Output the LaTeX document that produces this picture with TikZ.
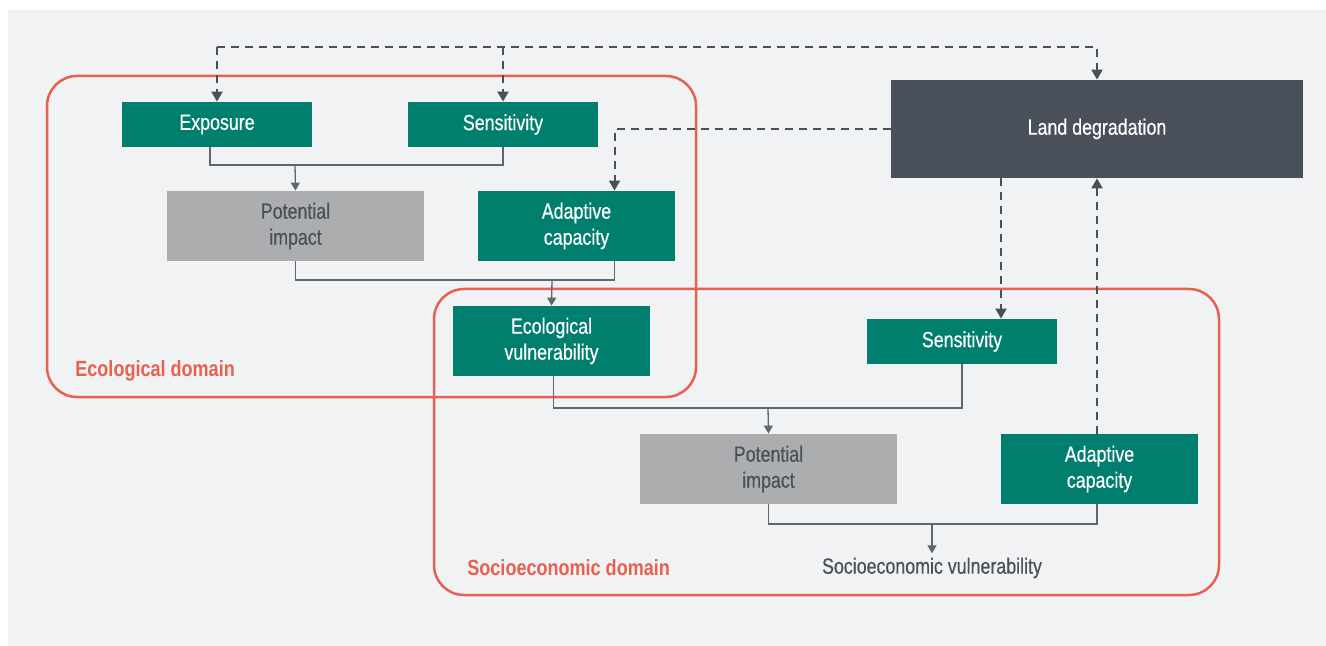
\documentclass[tikz,border=0pt]{standalone}
\usepackage{fontspec}
\setmainfont{Liberation Sans}[FakeStretch=0.82]
\newfontfamily\medfont{Liberation Sans}[FakeStretch=0.81,FakeBold=0.45]
\usepackage{xcolor}
\usepackage{tikz}
\usetikzlibrary{arrows.meta,positioning}
\definecolor{vubg}{HTML}{F1F2F4}
\definecolor{vuteal}{HTML}{007E6E}
\definecolor{vugrey}{HTML}{ABADAF}
\definecolor{vudark}{HTML}{4A505A}
\definecolor{vured}{HTML}{E8604F}
\definecolor{vuline}{HTML}{5F6670}

\begin{document}
\begin{tikzpicture}[
  x=0.5pt, y=-0.5pt,
  every node/.style={font=\medfont\fontsize{11}{13}\selectfont, inner sep=2pt},
  tealbox/.style={rectangle, fill=vuteal, text=white, align=center,
                  minimum width=98.5pt, minimum height=35pt},
  greybox/.style={rectangle, fill=vugrey, text=vudark, align=center,
                  minimum width=128.5pt, minimum height=35pt},
  darkbox/.style={rectangle, fill=vudark, text=white, align=center,
                  minimum width=206pt, minimum height=49pt},
  domframe/.style={draw=vured, line width=1.25pt, rounded corners=15pt},
  domlbl/.style={anchor=west, text=vured, font=\fontsize{11}{13}\selectfont\bfseries},
  flow/.style={draw=vuline, line width=0.65pt},
  arr/.style={flow, -{Triangle[width=4.5pt,length=4pt]}},
  fback/.style={draw=vudark, line width=1pt, dash pattern=on 4pt off 3pt,
                -{Triangle[width=5.5pt,length=5pt]}}
]
\useasboundingbox (0,0) rectangle (1326,646);
\fill[vubg] (8,10) rectangle (1326,646);

% domains
\draw[domframe] (47,76) rectangle (696,397);
\draw[domframe] (434,289) rectangle (1219,595);
\node[domlbl] (ecodom) at (71,371) {Ecological domain};
\node[domlbl] (socdom) at (463,568) {Socioeconomic domain};

% ecological part
\node[tealbox, minimum width=95pt, minimum height=22.5pt] (expo) at (217,124.5) {Exposure};
\node[tealbox, minimum width=95pt, minimum height=22.5pt] (sens1) at (503,124.5) {Sensitivity};
\node[greybox] (pot1) at (295.5,226) {Potential\\impact};
\node[tealbox] (adap1) at (576.5,226) {Adaptive\\capacity};
\node[tealbox] (ecovul) at (551.5,341) {Ecological\\vulnerability};

% socioeconomic part
\node[darkbox] (land) at (1097,129) {Land degradation};
\node[tealbox, minimum width=95pt, minimum height=22.5pt] (sens2) at (962,341.5) {Sensitivity};
\node[greybox] (pot2) at (768.5,469) {Potential\\impact};
\node[tealbox] (adap2) at (1099.5,469) {Adaptive\\capacity};
\node[text=vudark] (socvul) at (932,568) {Socioeconomic vulnerability};

% solid links
\coordinate (j1) at (295,165);
\draw[flow] ([xshift=-3.5pt]expo.south) |- (j1) -| (sens1.south);
\draw[arr] (j1) -- (pot1.north);
\coordinate (j2) at (552,280);
\draw[flow] (pot1.south) |- (j2) -| ([xshift=19pt]adap1.south);
\draw[arr] (j2) -- (ecovul.north);
\coordinate (j3) at (768,408);
\draw[flow] ([xshift=1pt]ecovul.south) |- (j3) -| (sens2.south);
\draw[arr] (j3) -- (pot2.north);
\coordinate (j4) at (932,524);
\draw[flow] (pot2.south) |- (j4) -| ([xshift=-1.25pt]adap2.south);
\draw[arr] (j4) -- (socvul.north);

% feedback links
\coordinate (fb) at (217,47);
\draw[fback] (fb) -- (expo.north);
\draw[fback] (fb) -| (land.north);
\draw[fback] (sens1.north |- fb) -- (sens1.north);
\draw[fback] (land.west) -| ([xshift=19pt]adap1.north);
\draw[fback] ([xshift=-48pt]land.south) -- ([xshift=-48pt]land.south |- sens2.north);
\draw[fback] ([xshift=-1.25pt]adap2.north) -- ([xshift=-1.25pt]adap2.north |- land.south);
\end{tikzpicture}
\end{document}
